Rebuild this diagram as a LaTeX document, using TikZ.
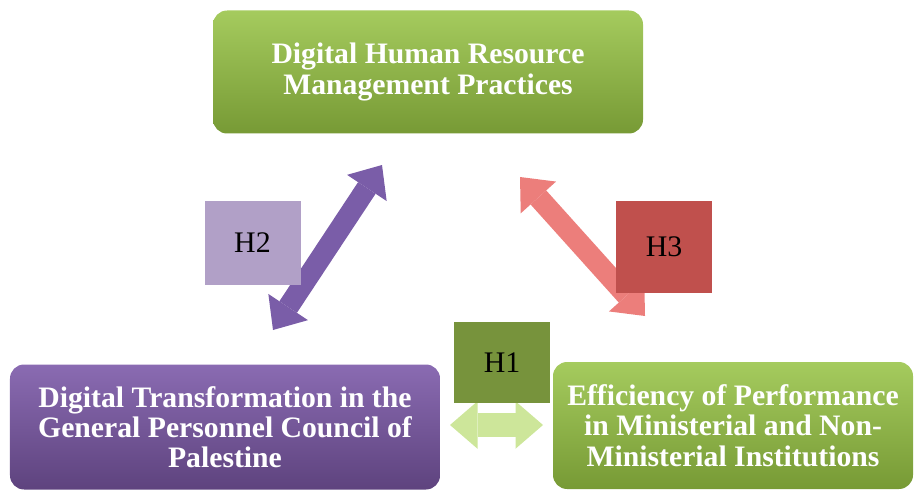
\documentclass[tikz,border=0pt]{standalone}
\usepackage{fontspec}
\setmainfont{Liberation Serif}
\usetikzlibrary{arrows.meta, positioning}

\definecolor{verdeClaro}{HTML}{A5CB5E}
\definecolor{verdeEscuro}{HTML}{779A35}
\definecolor{roxoClaro}{HTML}{8A6BB2}
\definecolor{roxoEscuro}{HTML}{5E437E}
\definecolor{setaRoxa}{HTML}{7A5DA8}
\definecolor{setaVermelha}{HTML}{EC7E7B}
\definecolor{setaVerde}{HTML}{CDE69A}
\definecolor{hDois}{HTML}{B1A0C7}
\definecolor{hTres}{HTML}{C0504D}
\definecolor{hUm}{HTML}{77933C}

\begin{document}
\begin{tikzpicture}[
    box/.style={rounded corners=8pt, align=center, text=white,
        font=\bfseries\fontsize{16.9}{17.2}\selectfont},
    greenbox/.style={box, top color=verdeClaro, bottom color=verdeEscuro},
    purplebox/.style={box, top color=roxoClaro, bottom color=roxoEscuro},
    hyp/.style={minimum width=1.92cm, font=\fontsize{17}{19}\selectfont},
    link/.style={line width=0.42cm,
        {Triangle[length=0.55cm, width=0.95cm, line width=0pt]}-{Triangle[length=0.55cm, width=0.95cm, line width=0pt]}}
]
\useasboundingbox (0,0) rectangle (18.28,9.78);

% Caixas
\node[greenbox, minimum width=8.6cm, minimum height=2.46cm] (hrm) at (8.56,8.34)
    {Digital Human Resource\\Management Practices};
\node[purplebox, minimum width=8.6cm, minimum height=2.5cm] (gpc) at (4.5,1.24)
    {Digital Transformation in the\\General Personnel Council of\\Palestine};
\node[greenbox, minimum width=7.2cm, minimum height=2.54cm] (eff) at (14.66,1.27)
    {Efficiency of Performance\\in Ministerial and Non-\\Ministerial Institutions};

% Pontas das setas
\coordinate (h2a) at (7.64,6.48);
\coordinate (h2b) at (5.46,3.18);
\coordinate (h3a) at (10.4,6.24);
\coordinate (h3b) at (12.9,3.46);
\coordinate (h1a) at (9.0,1.28);
\coordinate (h1b) at (10.86,1.28);

% Setas
\draw[link, setaRoxa] (h2b) -- (h2a);
\draw[link, setaVermelha] (h3a) -- (h3b);
\draw[link, setaVerde, line width=0.48cm] (h1a) -- (h1b);

% Hipóteses
\node[hyp, fill=hDois, minimum height=1.68cm] (h2) at (5.05,4.92) {H2};
\node[hyp, fill=hTres, minimum height=1.84cm] (h3) at (13.28,4.84) {H3};
\node[hyp, fill=hUm, minimum height=1.62cm] (h1) at (10.04,2.53) {H1};

\end{tikzpicture}
\end{document}
